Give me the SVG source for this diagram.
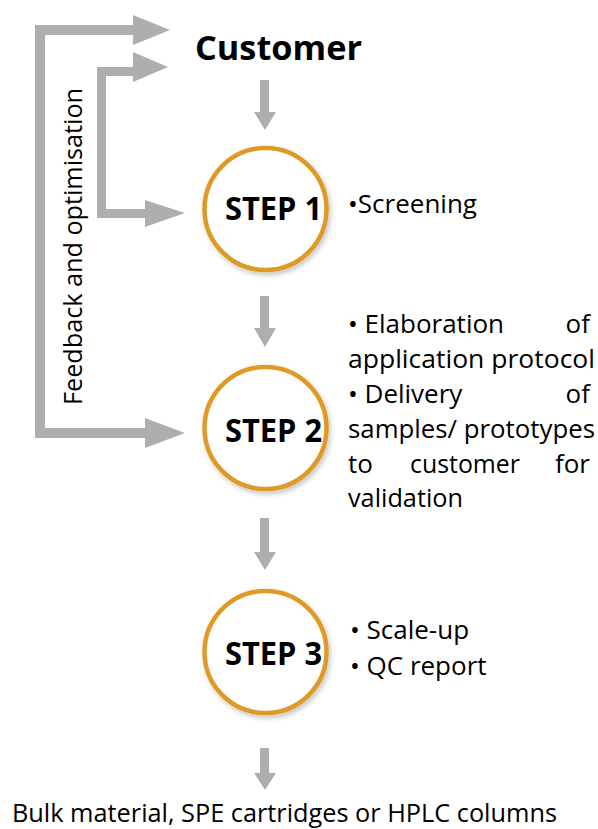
<svg xmlns="http://www.w3.org/2000/svg" width="598" height="829" viewBox="0 0 598 829">
<style>
.arr{fill:#AEAEAE;stroke:none}
.ring{fill:#ffffff;stroke:#DF9A26;stroke-width:4.5}
.step{font-family:"Open Sans","DejaVu Sans",sans-serif;font-weight:bold;font-size:32px;fill:#000}
.txt{font-family:"Open Sans","DejaVu Sans",sans-serif;font-size:26px;fill:#000}
.cust{font-family:"Open Sans","DejaVu Sans",sans-serif;font-weight:bold;font-size:34px;fill:#000}
</style>
<defs>
<filter id="sh" x="-20%" y="-20%" width="150%" height="150%">
<feDropShadow dx="2" dy="3" stdDeviation="2.5" flood-color="#000" flood-opacity="0.22"/>
</filter>
</defs>
<rect width="598" height="829" fill="#ffffff"/>
<g id="connectors">
<path class="arr" d="M35,438 L35,25 L133,25 L133,15 L170,30 L133,45 L133,35 L45,35 L45,428 L145,428 L145,418 L185,433 L145,448 L145,438 Z"/>
<path class="arr" d="M97,218 L97,67 L133,67 L133,52 L168,67 L133,82 L133,76 L106,76 L106,209 L145,209 L145,200 L185,213 L145,227 L145,218 Z"/>
<path class="arr" d="M260,80 L269,80 L269,112 L276,112 L265,130 L254,112 L260,112 Z"/>
<path class="arr" d="M260,296 L269,296 L269,328 L276,328 L265,347 L254,328 L260,328 Z"/>
<path class="arr" d="M260,518 L269,518 L269,552 L276,552 L265,570 L254,552 L260,552 Z"/>
<path class="arr" d="M260,748 L269,748 L269,773 L276,773 L265,790 L254,773 L260,773 Z"/>
</g>
<g id="feedback-label">
<text class="txt" transform="translate(82,405) rotate(-90)" textLength="317" lengthAdjust="spacingAndGlyphs">Feedback and optimisation</text>
</g>
<g id="customer">
<text class="cust" x="195" y="60" textLength="167" lengthAdjust="spacingAndGlyphs">Customer</text>
</g>
<g id="step1">
<circle class="ring" cx="265.5" cy="209" r="61" filter="url(#sh)"/>
<text class="step" x="225" y="220" textLength="97" lengthAdjust="spacingAndGlyphs">STEP 1</text>
<text class="txt" x="348" y="213" textLength="129" lengthAdjust="spacingAndGlyphs">•Screening</text>
</g>
<g id="step2">
<circle class="ring" cx="265.5" cy="428" r="61" filter="url(#sh)"/>
<text class="step" x="225" y="442" textLength="97" lengthAdjust="spacingAndGlyphs">STEP 2</text>
<text class="txt" x="348" y="333">• Elaboration</text>
<text class="txt" x="590" y="333" text-anchor="end">of</text>
<text class="txt" x="348" y="368" textLength="247" lengthAdjust="spacingAndGlyphs">application protocol</text>
<text class="txt" x="348" y="403">• Delivery</text>
<text class="txt" x="590" y="403" text-anchor="end">of</text>
<text class="txt" x="348" y="438" textLength="247" lengthAdjust="spacingAndGlyphs">samples/ prototypes</text>
<text class="txt" x="348" y="473">to</text>
<text class="txt" x="410" y="473" textLength="110" lengthAdjust="spacingAndGlyphs">customer</text>
<text class="txt" x="590" y="473" text-anchor="end">for</text>
<text class="txt" x="348" y="507" textLength="115" lengthAdjust="spacingAndGlyphs">validation</text>
</g>
<g id="step3">
<circle class="ring" cx="265.5" cy="652" r="61" filter="url(#sh)"/>
<text class="step" x="225" y="665" textLength="97" lengthAdjust="spacingAndGlyphs">STEP 3</text>
<text class="txt" x="350" y="639">• Scale-up</text>
<text class="txt" x="350" y="675">• QC report</text>
</g>
<g id="output">
<text class="txt" x="12" y="822" textLength="545" lengthAdjust="spacingAndGlyphs">Bulk material, SPE cartridges or HPLC columns</text>
</g>
</svg>
